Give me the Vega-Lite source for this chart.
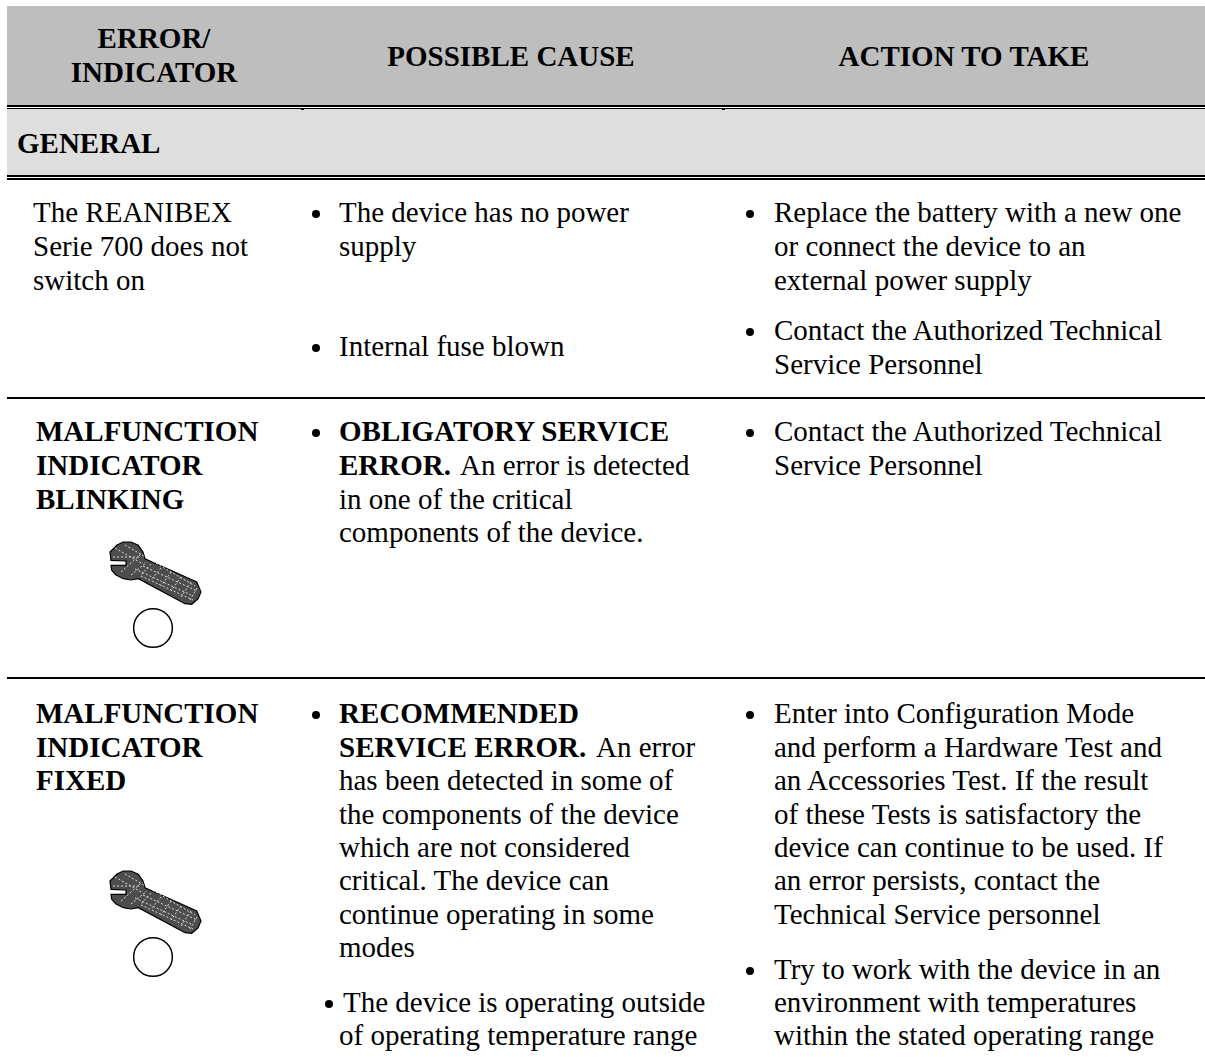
{
"$schema":"https://vega.github.io/schema/vega-lite/v6.json",
"width":1205,"height":1057,"padding":0,"autosize":"none",
"background":"white",
"config":{"view":{"stroke":null},"text":{"font":"Liberation Serif","color":"#000"}},
"datasets":{
"bands":[
{"x":7,"x2":1205,"y":6,"y2":105,"tone":"#bebebe"},
{"x":7,"x2":1205,"y":109,"y2":175,"tone":"#dedede"},
{"x":7,"x2":1205,"y":105,"y2":107,"tone":"#000000"},
{"x":7,"x2":1205,"y":108,"y2":109,"tone":"#000000"},
{"x":7,"x2":1205,"y":175,"y2":177,"tone":"#000000"},
{"x":7,"x2":1205,"y":178,"y2":180,"tone":"#000000"},
{"x":7,"x2":1205,"y":397,"y2":399,"tone":"#000000"},
{"x":7,"x2":1205,"y":677,"y2":679,"tone":"#000000"},
{"x":301,"x2":304,"y":108,"y2":110,"tone":"#000000"},
{"x":722,"x2":725,"y":108,"y2":110,"tone":"#000000"}
],
"head":[
{"x":154,"y":48,"label":"ERROR/"},
{"x":154,"y":82,"label":"INDICATOR"},
{"x":511,"y":65.5,"label":"POSSIBLE CAUSE"},
{"x":964,"y":65.5,"label":"ACTION TO TAKE"}
],
"bold":[
{"x":17,"y":153,"label":"GENERAL"},
{"x":36,"y":441,"label":"MALFUNCTION"},
{"x":36,"y":475,"label":"INDICATOR"},
{"x":36,"y":509,"label":"BLINKING"},
{"x":36,"y":723,"label":"MALFUNCTION"},
{"x":36,"y":757,"label":"INDICATOR"},
{"x":36,"y":790,"label":"FIXED"},
{"x":339,"y":441,"label":"OBLIGATORY SERVICE"},
{"x":339,"y":475,"label":"ERROR."},
{"x":339,"y":723,"label":"RECOMMENDED"},
{"x":339,"y":757,"label":"SERVICE ERROR."}
],
"body":[
{"x":33,"y":222,"label":"The REANIBEX"},
{"x":33,"y":256,"label":"Serie 700 does not"},
{"x":33,"y":290,"label":"switch on"},
{"x":339,"y":222,"label":"The device has no power"},
{"x":339,"y":256,"label":"supply"},
{"x":339,"y":356,"label":"Internal fuse blown"},
{"x":774,"y":222,"label":"Replace the battery with a new one"},
{"x":774,"y":256,"label":"or connect the device to an"},
{"x":774,"y":290,"label":"external power supply"},
{"x":774,"y":340,"label":"Contact the Authorized Technical"},
{"x":774,"y":374,"label":"Service Personnel"},
{"x":774,"y":441,"label":"Contact the Authorized Technical"},
{"x":774,"y":475,"label":"Service Personnel"},
{"x":460,"y":475,"label":"An error is detected"},
{"x":339,"y":509,"label":"in one of the critical"},
{"x":339,"y":542,"label":"components of the device."},
{"x":596,"y":757,"label":"An error"},
{"x":339,"y":790,"label":"has been detected in some of"},
{"x":339,"y":824,"label":"the components of the device"},
{"x":339,"y":857,"label":"which are not considered"},
{"x":339,"y":890,"label":"critical. The device can"},
{"x":339,"y":924,"label":"continue operating in some"},
{"x":339,"y":957,"label":"modes"},
{"x":343,"y":1012,"label":"The device is operating outside"},
{"x":339,"y":1045,"label":"of operating temperature range"},
{"x":774,"y":723,"label":"Enter into Configuration Mode"},
{"x":774,"y":757,"label":"and perform a Hardware Test and"},
{"x":774,"y":790,"label":"an Accessories Test. If the result"},
{"x":774,"y":824,"label":"of these Tests is satisfactory the"},
{"x":774,"y":857,"label":"device can continue to be used. If"},
{"x":774,"y":890,"label":"an error persists, contact the"},
{"x":774,"y":924,"label":"Technical Service personnel"},
{"x":774,"y":979,"label":"Try to work with the device in an"},
{"x":774,"y":1012,"label":"environment with temperatures"},
{"x":774,"y":1045,"label":"within the stated operating range"}
],
"bullets":[
{"x":316,"y":214},{"x":316,"y":348},{"x":750,"y":214},{"x":750,"y":332},
{"x":316,"y":433},{"x":750,"y":433},{"x":316,"y":715},{"x":750,"y":715},{"x":750,"y":971},{"x":329,"y":1004}
],
"icons":[{"x":155,"y":572,"cy":628,"cx":153},{"x":155,"y":901,"cy":957,"cx":153}]
},
"layer":[
{"data":{"name":"bands"},"mark":{"type":"rect"},
 "encoding":{
  "x":{"field":"x","type":"quantitative","scale":{"domain":[0,1205],"nice":false,"zero":false},"axis":null},
  "x2":{"field":"x2"},
  "y":{"field":"y","type":"quantitative","scale":{"domain":[1057,0],"nice":false,"zero":false},"axis":null},
  "y2":{"field":"y2"},
  "color":{"field":"tone","type":"nominal","scale":null,"legend":null}}},
{"data":{"name":"head"},"mark":{"type":"text","fontWeight":"bold","fontSize":29,"align":"center","baseline":"alphabetic"},
 "encoding":{"x":{"field":"x","type":"quantitative","axis":null},"y":{"field":"y","type":"quantitative","axis":null},"text":{"field":"label"}}},
{"data":{"name":"bold"},"mark":{"type":"text","fontWeight":"bold","fontSize":29,"align":"left","baseline":"alphabetic"},
 "encoding":{"x":{"field":"x","type":"quantitative","axis":null},"y":{"field":"y","type":"quantitative","axis":null},"text":{"field":"label"}}},
{"data":{"name":"body"},"mark":{"type":"text","fontSize":29,"align":"left","baseline":"alphabetic"},
 "encoding":{"x":{"field":"x","type":"quantitative","axis":null},"y":{"field":"y","type":"quantitative","axis":null},"text":{"field":"label"}}},
{"data":{"name":"bullets"},"mark":{"type":"point","shape":"circle","filled":true,"size":64,"color":"#000","opacity":1},
 "encoding":{"x":{"field":"x","type":"quantitative","axis":null},"y":{"field":"y","type":"quantitative","axis":null}}},
{"data":{"name":"icons"},"mark":{"type":"point","shape":"M-45,-20 L-38,-27 L-31.7,-30 L-24,-30 L-16.7,-26.7 L-12,-20 L-10,-13.3 L41.7,10 L46,20 L43,27 L36.7,32.3 L30,31.7 L-16.7,6.7 L-24,8 L-31.7,6.7 L-39,3 L-43.3,-1.7 L-44,-6.7 L-29,-6.7 L-29,-11 L-44,-11.7 Z","size":4,"filled":true,"fill":"#4d4d4d","stroke":"#000","strokeWidth":1.2,"opacity":1},
 "encoding":{"x":{"field":"x","type":"quantitative","axis":null},"y":{"field":"y","type":"quantitative","axis":null}}},
{"data":{"name":"icons"},"mark":{"type":"point","shape":"M-42,-15 L-14,-15 M-40,-24 L-12,-8 M-30,-27 L40,14 M-34,0 L-14,-18 M-24,3 L-8,-10 M-14,4 L38,28 M-20,-3 L38,24 M-12,-6 L42,19 M-4,-8 L-14,3 M6,-4 L-4,8 M16,0 L6,14 M26,5 L16,19 M36,10 L26,25 M42,16 L34,30","size":4,"filled":false,"stroke":"#ffffff","strokeWidth":0.8,"strokeDash":[2,2],"opacity":1},
 "encoding":{"x":{"field":"x","type":"quantitative","axis":null},"y":{"field":"y","type":"quantitative","axis":null}}},
{"data":{"name":"icons"},"mark":{"type":"point","shape":"circle","size":1500,"filled":false,"stroke":"#000","strokeWidth":1.5,"opacity":1},
 "encoding":{"x":{"field":"cx","type":"quantitative","axis":null},"y":{"field":"cy","type":"quantitative","axis":null}}}
]
}
